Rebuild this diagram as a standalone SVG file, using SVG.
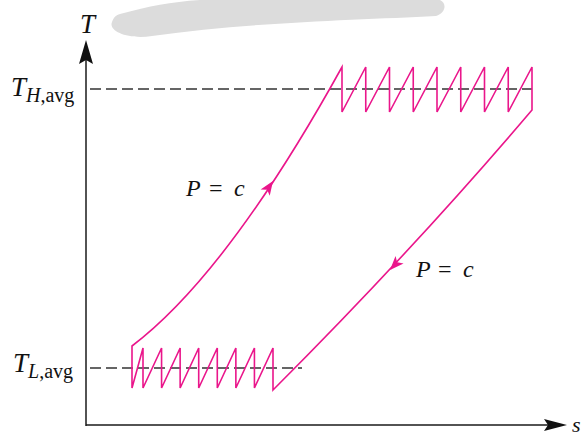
<svg xmlns="http://www.w3.org/2000/svg" width="585" height="436" viewBox="0 0 585 436">
<style>
.axis{stroke:#1a1a1a;stroke-width:1.5;fill:none}
.dash{stroke:#333;stroke-width:1.6;stroke-dasharray:11,5;fill:none}
.cyc{stroke:#ea168b;stroke-width:1.6;fill:none;stroke-linejoin:miter}
.lbl{font-family:"Liberation Serif","Times New Roman",serif;fill:#111}
.it{font-style:italic}
</style>
<defs>
<path id="ah" d="M0,0 L-14,-5.5 L-10.5,0 L-14,5.5 Z" fill="#ea168b"/>
</defs>
<path id="blob" d="M120,14 C150,6 170,2 200,0 L440,0 C447,3 446,13 436,16 C360,20 250,22 152,36 C128,40 108,31 112,22 C114,17 116,15 120,14 Z" fill="#dcdcdc"/>
<g id="axes">
<line class="axis" x1="86" y1="426" x2="86" y2="58"/>
<line class="axis" x1="86" y1="425" x2="550" y2="425"/>
<path d="M86,40 L93,64 L86,60 L79,64 Z" fill="#111"/>
<path d="M567,425 L544,419 L548,425 L544,431 Z" fill="#111"/>
</g>
<g id="guides">
<line class="dash" x1="90" y1="89" x2="532" y2="89"/>
<line class="dash" x1="90" y1="368" x2="302" y2="368"/>
</g>
<g id="cycle">
<path class="cyc" d="M132,346 Q228,273 342,67 L342,112 L365.75,67 L365.75,112 L389.5,67 L389.5,112 L413.25,67 L413.25,112 L437,67 L437,112 L460.75,67 L460.75,112 L484.5,67 L484.5,112 L508.25,67 L508.25,112 L532,67 L532,110 Q413,250 273,390 L273,348 L254.43,388 L254.43,348 L235.86,388 L235.86,348 L217.29,388 L217.29,348 L198.71,388 L198.71,348 L180.14,388 L180.14,348 L161.57,388 L161.57,348 L143,388 L143,348 L132,388 Z"/>
<use href="#ah" transform="translate(273,181) rotate(-56)"/>
<use href="#ah" transform="translate(390,270) rotate(133)"/>
</g>
<g id="labels">
<text class="lbl it" x="80" y="33" font-size="27">T</text>
<text class="lbl" x="11" y="96" font-size="27"><tspan class="it">T</tspan><tspan dy="6" font-size="20"><tspan class="it">H</tspan>,avg</tspan></text>
<text class="lbl" x="13" y="372" font-size="27"><tspan class="it">T</tspan><tspan dy="6" font-size="20"><tspan class="it">L</tspan>,avg</tspan></text>
<text class="lbl" y="196" font-size="24"><tspan class="it" x="186">P</tspan><tspan x="209">=</tspan><tspan class="it" x="234">c</tspan></text>
<text class="lbl" y="277" font-size="24"><tspan class="it" x="416">P</tspan><tspan x="438">=</tspan><tspan class="it" x="463">c</tspan></text>
<text class="lbl it" x="572" y="432" font-size="22">s</text>
</g>
</svg>
